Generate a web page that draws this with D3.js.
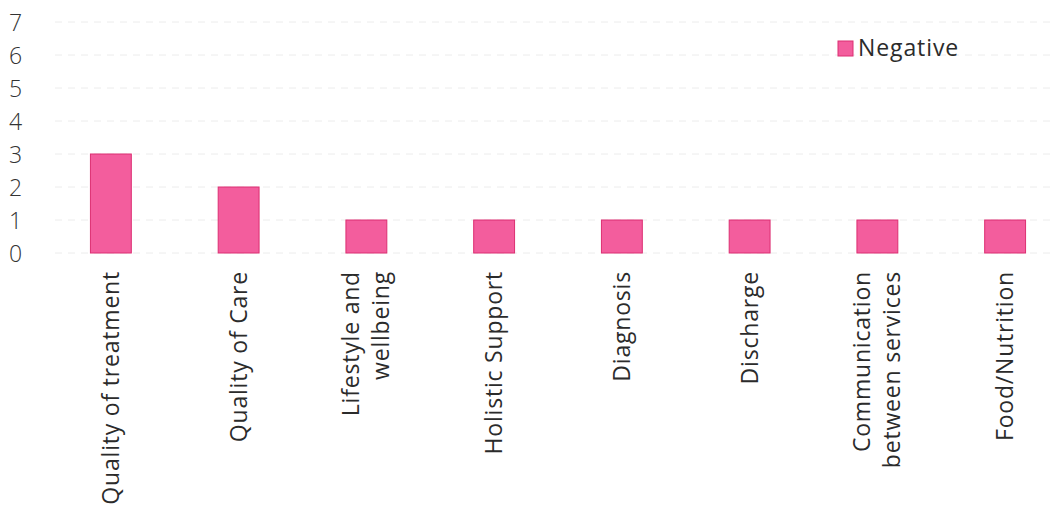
<!DOCTYPE html>
<html>
<head>
<meta charset="utf-8">
<script src="https://cdn.jsdelivr.net/npm/d3@7"></script>
<style>
  html, body { margin: 0; padding: 0; background: #fff; }
  svg { display: block; }
  text { font-family: "Open Sans", "DejaVu Sans", sans-serif; fill: #2b2b2b; }
</style>
</head>
<body>
<svg id="chart" width="1053" height="518"></svg>
<script>
// Feedback themes with negative comments
const categories = [
  ["Quality of treatment"],
  ["Quality of Care"],
  ["Lifestyle and", "wellbeing"],
  ["Holistic Support"],
  ["Diagnosis"],
  ["Discharge"],
  ["Communication", "between services"],
  ["Food/Nutrition"]
];
const negative = [3, 2, 1, 1, 1, 1, 1, 1];
const yTicks = [0, 1, 2, 3, 4, 5, 6, 7];
const seriesName = "Negative";

const svg = d3.select("#chart");
const keys = categories.map(c => c.join(" "));

const x = d3.scaleBand()
  .domain(keys)
  .range([47, 1069])
  .paddingInner(0.68)
  .paddingOuter(0.34);

const y = d3.scaleLinear()
  .domain([0, 7])
  .range([253, 22]);

// faint gridlines
svg.append("g")
  .selectAll("line")
  .data(yTicks)
  .join("line")
  .attr("x1", 55)
  .attr("x2", 1053)
  .attr("y1", d => y(d))
  .attr("y2", d => y(d))
  .attr("stroke", "#ececec")
  .attr("stroke-width", 1)
  .attr("stroke-dasharray", "7,6");

// y axis labels
const yAxis = d3.axisLeft(y).tickValues(yTicks).tickFormat(d3.format("d")).tickSize(0).tickPadding(0);
const gy = svg.append("g").attr("transform", "translate(9,0)").call(yAxis);
gy.select(".domain").remove();
gy.selectAll("text")
  .attr("text-anchor", "start")
  .attr("x", 0)
  .attr("dy", "0.36em")
  .style("font-size", "23px")
  .style("font-weight", 300)
  .style("fill", "#333");

// bars
svg.append("g")
  .selectAll("rect")
  .data(negative)
  .join("rect")
  .attr("x", (d, i) => x(keys[i]))
  .attr("width", x.bandwidth())
  .attr("y", d => y(d))
  .attr("height", d => y(0) - y(d))
  .attr("fill", "#f35d9d")
  .attr("stroke", "#dc2f72")
  .attr("stroke-width", 1);

// rotated category labels
const xAxis = d3.axisBottom(x).tickSize(0).tickFormat(() => "");
const gx = svg.append("g").attr("transform", `translate(0,${y(0)})`).call(xAxis);
gx.select(".domain").remove();

const lineGap = 30;
const labels = svg.append("g")
  .selectAll("text")
  .data(categories)
  .join("text")
  .attr("transform", (d, i) => {
    const cx = x(keys[i]) + x.bandwidth() / 2;
    return `translate(${cx},271) rotate(-90)`;
  })
  .attr("text-anchor", "end")
  .style("font-size", "23px")
  .style("letter-spacing", "0.8px");

labels.each(function(lines) {
  const t = d3.select(this);
  const n = lines.length;
  lines.forEach((ln, k) => {
    t.append("tspan")
      .attr("x", 0)
      .attr("y", (k - (n - 1) / 2) * lineGap)
      .attr("dy", "0.35em")
      .text(ln);
  });
});

// legend
const legend = svg.append("g").attr("transform", "translate(838,41)");
legend.append("rect")
  .attr("width", 15).attr("height", 15)
  .attr("fill", "#f35d9d").attr("stroke", "#dc2f72");
legend.append("text")
  .attr("x", 20).attr("y", 15)
  .style("font-size", "23px")
  .style("letter-spacing", "0.9px")
  .text(seriesName);
</script>
</body>
</html>
